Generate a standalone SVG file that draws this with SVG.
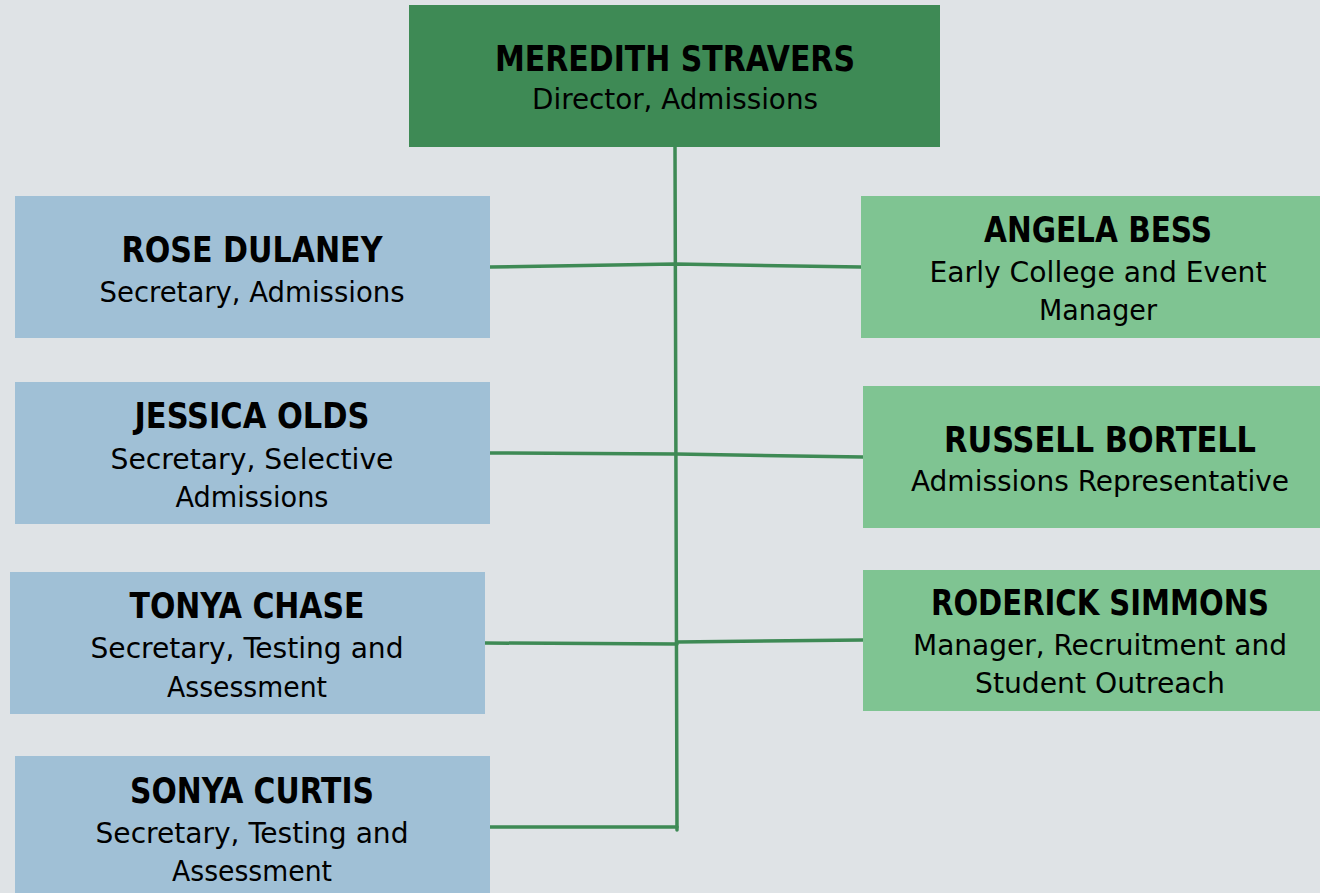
<svg xmlns="http://www.w3.org/2000/svg" width="1320" height="893" viewBox="0 0 1320 893">
<style>
.bg{fill:#dfe3e6}
.top{fill:#3e8a55}
.blue{fill:#a0c0d6}
.green{fill:#7fc492}
.name{font-family:"DejaVu Sans Condensed","DejaVu Sans",sans-serif;font-weight:bold;font-size:35px;fill:#000;text-anchor:middle}
.sub{font-family:"DejaVu Sans Condensed","DejaVu Sans",sans-serif;font-size:29px;fill:#000;text-anchor:middle}
.conn line, .conn polyline{stroke:#3e8a55;stroke-width:3.5;fill:none;stroke-linecap:round}
</style>
<rect class="bg" x="0" y="0" width="1320" height="893"/>
<g class="conn" id="connectors">
<line x1="675" y1="147" x2="677" y2="830"/>
<polyline points="490,267 675,264 861,267"/>
<polyline points="490,453 676,454 863,457"/>
<line x1="485" y1="643" x2="677" y2="644"/>
<line x1="677" y1="642" x2="863" y2="640"/>
<line x1="490" y1="827" x2="677" y2="827"/>
</g>
<g id="meredith">
<rect class="top" x="409" y="5" width="531" height="142"/>
<text class="name" x="675" y="71" textLength="360" lengthAdjust="spacingAndGlyphs">MEREDITH STRAVERS</text>
<text class="sub" x="675" y="109" textLength="286" lengthAdjust="spacingAndGlyphs">Director, Admissions</text>
</g>
<g id="rose">
<rect class="blue" x="15" y="196" width="475" height="142"/>
<text class="name" x="252" y="262" textLength="261" lengthAdjust="spacingAndGlyphs">ROSE DULANEY</text>
<text class="sub" x="252" y="302" textLength="305" lengthAdjust="spacingAndGlyphs">Secretary, Admissions</text>
</g>
<g id="jessica">
<rect class="blue" x="15" y="382" width="475" height="142"/>
<text class="name" x="252" y="428" textLength="235" lengthAdjust="spacingAndGlyphs">JESSICA OLDS</text>
<text class="sub" x="252" y="469" textLength="283" lengthAdjust="spacingAndGlyphs">Secretary, Selective</text>
<text class="sub" x="252" y="507" textLength="153" lengthAdjust="spacingAndGlyphs">Admissions</text>
</g>
<g id="tonya">
<rect class="blue" x="10" y="572" width="475" height="142"/>
<text class="name" x="247" y="618" textLength="235" lengthAdjust="spacingAndGlyphs">TONYA CHASE</text>
<text class="sub" x="247" y="658" textLength="313" lengthAdjust="spacingAndGlyphs">Secretary, Testing and</text>
<text class="sub" x="247" y="697" textLength="160" lengthAdjust="spacingAndGlyphs">Assessment</text>
</g>
<g id="sonya">
<rect class="blue" x="15" y="756" width="475" height="142"/>
<text class="name" x="252" y="803" textLength="244" lengthAdjust="spacingAndGlyphs">SONYA CURTIS</text>
<text class="sub" x="252" y="843" textLength="313" lengthAdjust="spacingAndGlyphs">Secretary, Testing and</text>
<text class="sub" x="252" y="881" textLength="160" lengthAdjust="spacingAndGlyphs">Assessment</text>
</g>
<g id="angela">
<rect class="green" x="861" y="196" width="459" height="142"/>
<text class="name" x="1098" y="242" textLength="228" lengthAdjust="spacingAndGlyphs">ANGELA BESS</text>
<text class="sub" x="1098" y="282" textLength="337" lengthAdjust="spacingAndGlyphs">Early College and Event</text>
<text class="sub" x="1098" y="320" textLength="118" lengthAdjust="spacingAndGlyphs">Manager</text>
</g>
<g id="russell">
<rect class="green" x="863" y="386" width="457" height="142"/>
<text class="name" x="1100" y="452" textLength="312" lengthAdjust="spacingAndGlyphs">RUSSELL BORTELL</text>
<text class="sub" x="1100" y="491" textLength="378" lengthAdjust="spacingAndGlyphs">Admissions Representative</text>
</g>
<g id="roderick">
<rect class="green" x="863" y="570" width="457" height="141"/>
<text class="name" x="1100" y="615" textLength="338" lengthAdjust="spacingAndGlyphs">RODERICK SIMMONS</text>
<text class="sub" x="1100" y="655" textLength="374" lengthAdjust="spacingAndGlyphs">Manager, Recruitment and</text>
<text class="sub" x="1100" y="693" textLength="250" lengthAdjust="spacingAndGlyphs">Student Outreach</text>
</g>
</svg>
